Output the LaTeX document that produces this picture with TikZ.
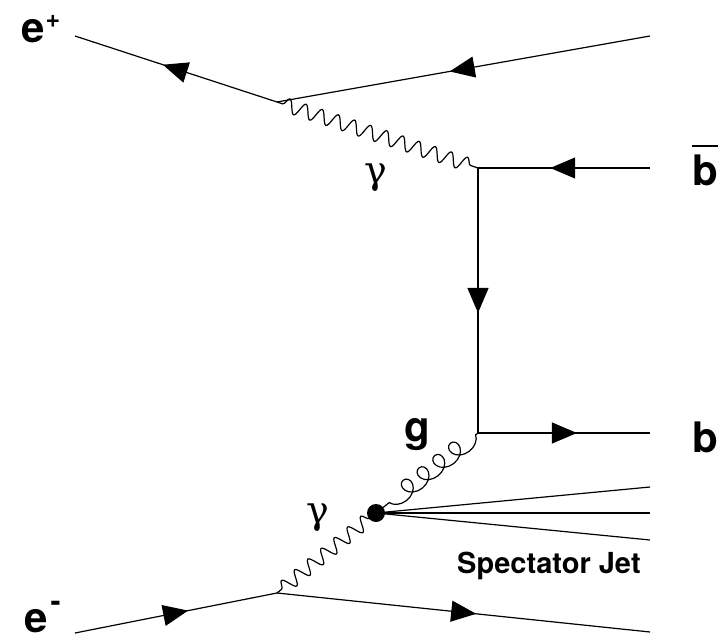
\documentclass[tikz,border=0pt]{standalone}
\usepackage{fontspec}
\setmainfont{TeX Gyre Heros}
\newfontfamily\grk{DejaVu Serif}
\usetikzlibrary{arrows.meta,decorations.markings,decorations.pathmorphing}
\tikzset{
  line/.style={line width=1.2pt},
  fermion/.style={line, postaction={decorate,decoration={markings,
      mark=at position #1 with {\arrow{Triangle[length=25pt,width=21pt]}}}}},
  photon/.style={line, decorate, decoration={snake, amplitude=7pt,
      segment length=17pt, pre length=6pt, post length=6pt}},
  gluon/.style={line, decorate, decoration={coil, amplitude=9pt,
      segment length=20pt, aspect=1.1, pre length=3pt, post length=8pt}},
  lbl/.style={anchor=base west, inner sep=0pt, font=\bfseries\fontsize{42}{48}\selectfont},
  glbl/.style={anchor=center, inner sep=0pt, font=\grk\fontsize{38}{44}\selectfont},
  blob/.style={circle, fill=black, minimum size=18pt, inner sep=0pt}
}
\begin{document}
\begin{tikzpicture}[x=1pt,y=-1pt]
\useasboundingbox (0,0) rectangle (718,637);

% external legs and vertices
\coordinate (eplus)  at (75,36);
\coordinate (vtop)   at (277,102);
\coordinate (outtop) at (650,36);
\coordinate (vbbar)  at (478,168);
\coordinate (outbbar) at (650,168);
\coordinate (vb)     at (478,433);
\coordinate (outb)   at (650,433);
\coordinate (eminus) at (75,633);
\coordinate (vbot)   at (277,593);
\coordinate (outbot) at (650,632);
\coordinate (jet1)   at (650,487);
\coordinate (jet2)   at (650,513);
\coordinate (jet3)   at (650,540);
\node[blob] (blob) at (376,513) {};

% positron line
\draw[fermion=0.565] (vtop) -- (eplus);
\draw[fermion=0.537] (outtop) -- (vtop);
% upper photon
\draw[photon] (vtop) -- (vbbar);
% heavy quark line
\draw[fermion=0.58] (outbbar) -- (vbbar);
\draw[fermion=0.547] (vbbar) -- (vb);
\draw[fermion=0.575] (vb) -- (outb);
% gluon from the resolved photon
\draw[gluon] (vb) -- (blob.center);
% lower photon
\draw[photon] (vbot) -- (blob.center);
% spectator jet
\draw[line] (blob.center) -- (jet1);
\draw[line] (blob.center) -- (jet2);
\draw[line] (blob.center) -- (jet3);
% electron line
\draw[fermion=0.56] (eminus) -- (vbot);
\draw[fermion=0.534] (vbot) -- (outbot);

% labels
\node[lbl] (lep) at (21,42) {e\kern1pt\raisebox{15pt}{\fontsize{25}{25}\selectfont +}};
\node[lbl] (lem) at (24,632) {e\kern3pt\raisebox{21pt}{\fontsize{30}{30}\selectfont -}};
\node[lbl] (lbbar) at (692,185) {\rlap{\rule[38pt]{25.5pt}{2.5pt}}b};
\node[lbl] (lb) at (692,452) {b};
\node[lbl] (lg) at (404,441) {g};
\node[glbl] (lgt) at (376,178) {γ};
\node[glbl] (lgb) at (318,518) {γ};
\node[anchor=base west, inner sep=0pt, font=\bfseries\fontsize{29}{34}\selectfont] (lsj) at (457,573) {Spectator Jet};
\end{tikzpicture}
\end{document}
